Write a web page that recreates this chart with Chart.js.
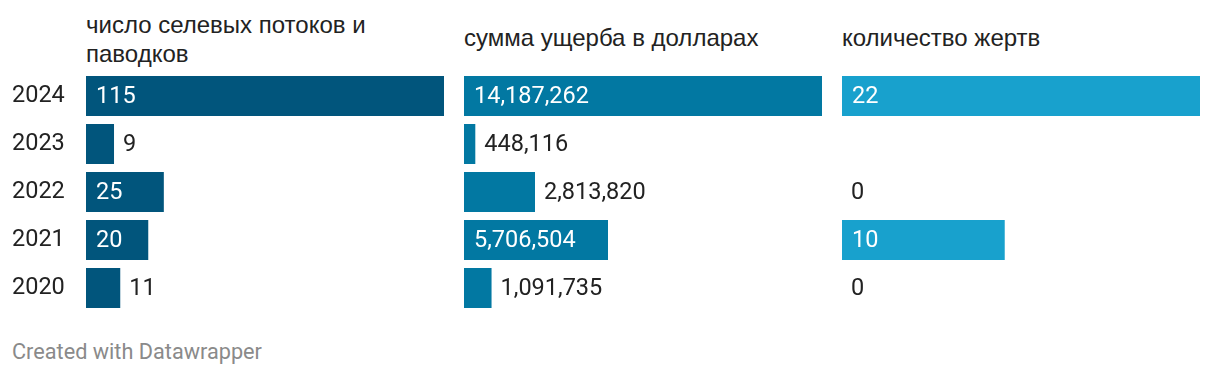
<!DOCTYPE html>
<html><head><meta charset="utf-8">
<script src="https://cdn.jsdelivr.net/npm/chart.js@4"></script>
<style>
body{margin:0;width:1220px;height:384px;background:#fff;position:relative;overflow:hidden;font-family:Roboto,sans-serif}
.hd{position:absolute;font-family:"Liberation Sans",Arial,sans-serif;font-size:24px;line-height:29px;color:#222;}
canvas{position:absolute;top:72px}
#foot{position:absolute;left:12px;top:339px;font-family:Roboto,sans-serif;font-size:21.7px;color:#8a8a8a;white-space:nowrap}
</style></head>
<body>
<div class="hd" id="h0" style="left:86px;top:10px;width:358px"></div>
<div class="hd" id="h1" style="left:464px;top:23px;width:358px"></div>
<div class="hd" id="h2" style="left:842px;top:23px;width:358px"></div>
<canvas id="c0" width="450" height="240" style="left:0px"></canvas>
<canvas id="c1" width="364" height="240" style="left:464px"></canvas>
<canvas id="c2" width="364" height="240" style="left:842px"></canvas>
<div id="foot"></div>
<script>
const years = ["2024", "2023", "2022", "2021", "2020"];
const headers = ["число селевых потоков и паводков", "сумма ущерба в долларах", "количество жертв"];
const flows = [115, 9, 25, 20, 11];
const damage = [14187262, 448116, 2813820, 5706504, 1091735];
const victims = [22, null, 0, 10, 0];
const colors = ["#01557c", "#0278a2", "#18a1cd"];
const footer = "Created with Datawrapper";

headers.forEach((h, i) => document.getElementById('h' + i).textContent = h);
document.getElementById('foot').textContent = footer;

const FONT = '23.5px Roboto';
const labelPlugin = {
  id: 'vlabels',
  afterDatasetsDraw(chart) {
    const ctx = chart.ctx;
    const ds = chart.data.datasets[0];
    const meta = chart.getDatasetMeta(0);
    ctx.save();
    ctx.font = FONT;
    ctx.textBaseline = 'middle';
    ctx.textAlign = 'left';
    meta.data.forEach((el, i) => {
      const v = ds.data[i];
      if (v === null || v === undefined) return;
      const txt = v.toLocaleString('en-US');
      const tw = ctx.measureText(txt).width;
      const bw = el.x - el.base;
      if (bw >= tw + 20) {
        ctx.fillStyle = '#ffffff';
        ctx.fillText(txt, el.base + 10, el.y + 1);
      } else {
        ctx.fillStyle = '#222222';
        ctx.fillText(txt, el.x + 9, el.y + 1);
      }
    });
    ctx.restore();
  }
};

function makeChart(id, values, color, showYears) {
  const max = Math.max(...values.filter(v => v !== null));
  return new Chart(document.getElementById(id), {
    type: 'bar',
    data: {
      labels: years,
      datasets: [{
        data: values,
        backgroundColor: color,
        borderWidth: 0,
        barPercentage: 1,
        categoryPercentage: 40 / 48
      }]
    },
    options: {
      indexAxis: 'y',
      responsive: false,
      animation: false,
      devicePixelRatio: 1,
      layout: { padding: { left: showYears ? 12 : 0, right: 6, top: 0, bottom: 0 } },
      plugins: { legend: { display: false }, tooltip: { enabled: false }, title: { display: false } },
      scales: {
        x: { type: 'linear', min: 0, max: max, display: false, grid: { display: false } },
        y: {
          display: showYears,
          grid: { display: false },
          border: { display: false },
          ticks: { font: { family: 'Roboto', size: 23.5 }, color: '#222', crossAlign: 'far', padding: 0 },
          afterFit: s => {
            if (showYears) { s.width = 74; } else { s.width = 0; }
            s.paddingTop = 0; s.paddingBottom = 0;
          }
        }
      }
    },
    plugins: [labelPlugin]
  });
}

function draw() {
  makeChart('c0', flows, colors[0], true);
  makeChart('c1', damage, colors[1], false);
  makeChart('c2', victims, colors[2], false);
}
if (document.fonts && document.fonts.load) {
  document.fonts.load(FONT).then(draw, draw);
} else { draw(); }
</script>
</body></html>
